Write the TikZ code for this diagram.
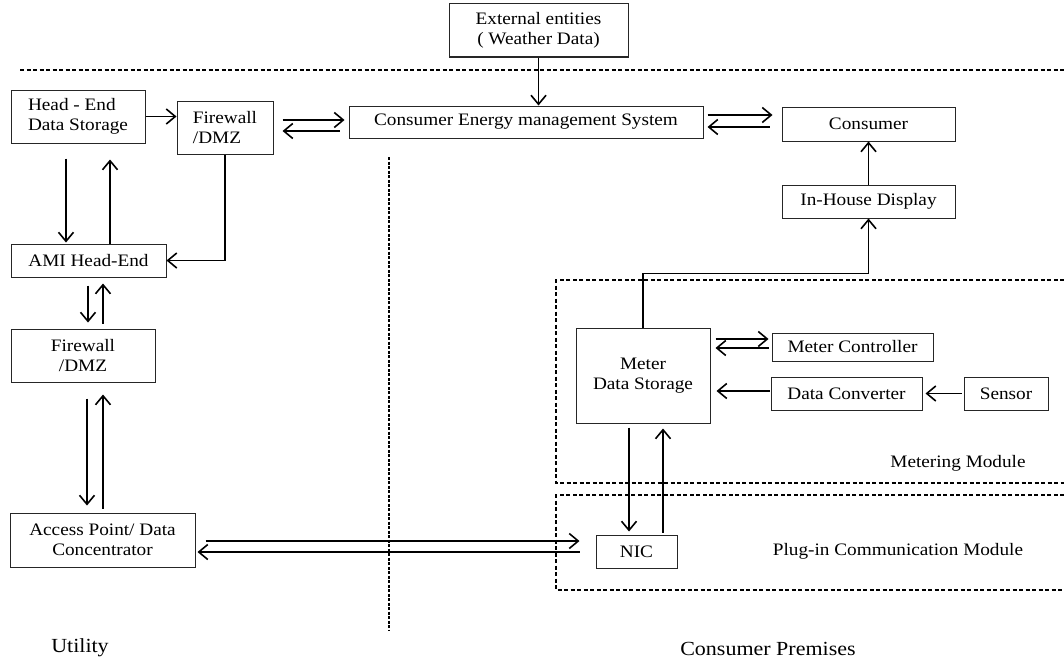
\documentclass[tikz,border=0pt]{standalone}
\usepackage{fontspec}
\setmainfont{Liberation Serif}[FakeStretch=1.1]
\usetikzlibrary{arrows.meta,calc}

\begin{document}
\begin{tikzpicture}[x=1pt,y=-1pt,
  box/.style={draw=black!85, line width=1pt, inner sep=0pt,
    font=\fontsize{17.5}{20}\selectfont, align=center},
  lbl/.style={inner sep=0pt, font=\fontsize{17.5}{20}\selectfont},
  biglbl/.style={inner sep=0pt, font=\fontsize{20}{24}\selectfont},
  arr/.style={line width=1.6pt,
    -{Straight Barb[length=9pt,width=15pt,line width=1.6pt]}},
  zone/.style={line width=1.4pt, dash pattern=on 4pt off 2.5pt},
  divider/.style={line width=1.6pt, dash pattern=on 3pt off 1.5pt}]

\useasboundingbox (0,0) rectangle (1064,661);

% boxes
\node[box, minimum width=179pt, minimum height=53pt] (ext) at (538.5,30.5)
  {External entities\\( Weather Data)};
\node[box, minimum width=134pt, minimum height=53pt, align=left] (head) at (78,116.5)
  {Head - End\\Data Storage};
\node[box, minimum width=96pt, minimum height=53pt, align=left] (fw1) at (225,127.5)
  {Firewall\\/DMZ};
\node[box, minimum width=354pt, minimum height=32pt] (cems) at (526,122)
  {Consumer Energy management System};
\node[box, minimum width=173pt, minimum height=34pt] (cons) at (868.5,124) {Consumer};
\node[box, minimum width=173pt, minimum height=33pt] (ihd) at (868.5,201.5) {In-House Display};
\node[box, minimum width=155pt, minimum height=33pt] (ami) at (88.5,260.5) {AMI Head-End};
\node[box, minimum width=144pt, minimum height=53pt] (fw2) at (83,355.5) {Firewall\\/DMZ};
\node[box, minimum width=185pt, minimum height=54pt] (ap) at (102.5,540)
  {Access Point/ Data\\Concentrator};
\node[box, minimum width=134pt, minimum height=95pt] (mds) at (643,375.5)
  {Meter\\Data Storage};
\node[box, minimum width=161pt, minimum height=28pt] (mc) at (852.5,347) {Meter Controller};
\node[box, minimum width=151pt, minimum height=33pt] (dc) at (846.5,393.5) {Data Converter};
\node[box, minimum width=84pt, minimum height=33pt] (sen) at (1006,393.5) {Sensor};
\node[box, minimum width=81pt, minimum height=33pt] (nic) at (636.5,551.5) {NIC};

% region borders
\draw[zone] (20,70) -- (1064,70);
\draw[divider] (389,157) -- (389,630);
\draw[zone] (1064,280) -- (556,280) -- (556,483) -- (1064,483);
\draw[zone] (1064,495) -- (556,495) -- (556,590) -- (1064,590);

% region labels
\node[lbl] (metlbl) at (958,463) {Metering Module};
\node[lbl] (pluglbl) at (898,551) {Plug-in Communication Module};
\node[biglbl] (utl) at (80,648) {Utility};
\node[biglbl] (cpl) at (768,649) {Consumer Premises};

% utility side
\draw[arr] (ext.south) -- (ext.south |- cems.north);
\draw[arr] (head.east) -- (head.east -| fw1.west);
\draw[arr] ($(fw1.east)+(9,-7.5)$) -- ($(cems.west)+(-4,-2)$);
\draw[arr] ($(cems.west)+(-9,9)$) -- ($(fw1.east)+(9,3.5)$);
\draw[arr] ($(head.south)+(-12,15)$) -- ($(ami.north)+(-22.5,-1)$);
\draw[arr] ($(ami.north)+(21.5,0)$) -- ($(head.south)+(32,16)$);
\draw[arr] (fw1.south) |- (ami.east);
\draw[arr] ($(ami.south)+(-0.5,8)$) -- ($(fw2.north)+(5,-6)$);
\draw[arr] ($(fw2.north)+(20,-5)$) -- ($(ami.south)+(14.5,6)$);
\draw[arr] ($(fw2.south)+(4,16)$) -- ($(ap.north)+(-15.5,-7)$);
\draw[arr] ($(ap.north)+(0.5,-4)$) -- ($(fw2.south)+(20,12)$);

% across the premises boundary
\draw[arr] ($(ap.east)+(10,1)$) -- ($(nic.west)+(-16,-10.5)$);
\draw[arr] ($(nic.west)+(-16,0.5)$) -- ($(ap.east)+(2,12)$);

% consumer side
\draw[arr] ($(cems.east)+(4,-7)$) -- ($(cons.west)+(-9,-9)$);
\draw[arr] ($(cons.west)+(-12,3)$) -- ($(cems.east)+(4,5)$);
\draw[arr] (ihd.north) -- (cons.south);
\coordinate (bend) at ($(ihd.south)+(0,55)$);
\draw[arr] (mds.north) |- (bend) -- (ihd.south);
\draw[arr] ($(mds.east)+(5,-36.5)$) -- ($(mc.west)+(-3,-8)$);
\draw[arr] ($(mc.west)+(-3,1)$) -- ($(mds.east)+(5,-27.5)$);
\draw[arr] ($(dc.west)+(-1,-2.5)$) -- ($(mds.east)+(6,15.5)$);
\draw[arr] ($(sen.west)+(-2,0)$) -- ($(dc.east)+(3,0)$);
\draw[arr] ($(mds.south)+(-14,4)$) -- ($(nic.north)+(-7.5,-3)$);
\draw[arr] ($(nic.north)+(26.5,-2)$) -- ($(mds.south)+(20,5)$);
\end{tikzpicture}
\end{document}
